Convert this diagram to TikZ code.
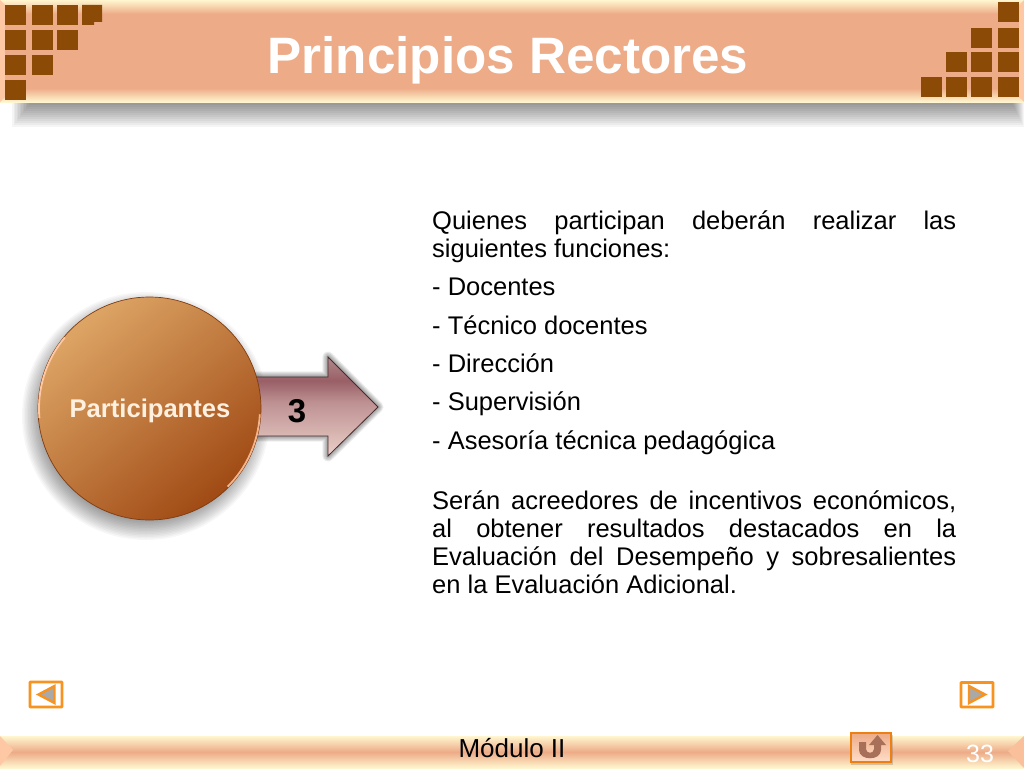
\documentclass[tikz,border=0pt]{standalone}
\usepackage{fontspec}
\setmainfont{Liberation Sans}
\usetikzlibrary{fadings,calc}
\definecolor{salmon}{HTML}{EDAB87}
\definecolor{cream}{HTML}{FFF6CF}
\definecolor{peach}{HTML}{FFC8A4}
\definecolor{sq}{HTML}{8B4A05}
\definecolor{nav}{HTML}{F7931E}
\definecolor{navgray}{HTML}{A9A9A9}
\definecolor{cLight}{HTML}{DDA565}
\definecolor{cDark}{HTML}{A04A14}
\definecolor{aTop}{HTML}{B08A8C}
\definecolor{aDark}{HTML}{995F66}
\definecolor{aLight}{HTML}{EBCFC8}
\definecolor{uglyph}{HTML}{A87058}
\pgfdeclareverticalshading{arrowshade}{100bp}{color(0bp)=(aLight); color(25bp)=(aLight); color(52bp)=(aDark!55!aLight); color(63bp)=(aDark); color(75bp)=(aTop); color(100bp)=(aTop)}
\tikzset{
  brick/.style={fill=sq,draw=none},
  navframe/.style={draw=nav,line width=2.8pt,fill=white,rounded corners=0.6pt},
  navtri/.style={draw=nav,line width=2.4pt,fill=navgray,line join=miter},
  bodytext/.style={anchor=base west,inner sep=0pt,text width=524pt,align=justify,font=\fontsize{25.5}{28}\selectfont},
}
\newcommand{\brickat}[2]{\fill[brick] (#1,#2) rectangle ++(20.5,20);}
\begin{document}
\begin{tikzpicture}[x=1pt,y=-1pt]
\useasboundingbox (0,0) rectangle (1024,768);
\fill[white] (0,0) rectangle (1024,768);

% header shadow
\foreach \k in {0,...,11}{
  \fill[black,opacity=0.04] ({12+\k*1.5},102) rectangle ({1024-\k*1.0},{127-\k*2});
}
% header band
\fill[top color=cream,bottom color=salmon] (0,0) rectangle (1024,14);
\fill[salmon] (0,14) rectangle (1024,88);
\fill[top color=salmon,bottom color=cream] (0,88) rectangle (1024,102);
\fill[peach] (0,0) -- (5,5) -- (5,97) -- (0,102) -- cycle;
\fill[peach] (1024,0) -- (1019,5) -- (1019,97) -- (1024,102) -- cycle;

% left bricks
\foreach \x/\y in {5/5,32/5,57/5,5/30,32/30,57/30,5/55,32/55,5/80}{\brickat{\x}{\y}}
\fill[brick] (82,5) -- (102,5) -- (102,22) -- (94,22) -- (94,25) -- (82,25) -- cycle;
% right bricks
\foreach \x/\y in {998/2,971/28,998/28,946/52,971/52,998/52,921/77,946/77,971/77,998/77}{\brickat{\x}{\y}}

\node[anchor=base,text=white,font=\bfseries\fontsize{51.2}{52}\selectfont,inner sep=0pt] (title) at (508,74) {Principios Rectores};

% circle shadow
\foreach \k in {0,...,15}{
  \fill[black,opacity=0.03] (146,416) circle ({124-\k*1.5});
}
% arrow shadow
\foreach \k in {0,...,6}{
  \draw[black,opacity=0.06,line width={(7-\k)*1.6pt},line join=round]
    (255,377) -- (328,377) -- (328,357) -- (378,407) -- (328,456) -- (328,436) -- (255,436) -- cycle;
}
% arrow
\shade[shading=arrowshade,draw=black!55!aDark,line width=0.8pt]
  (255,377) -- (328,377) -- (328,357) -- (378,407) -- (328,456) -- (328,436) -- (255,436) -- cycle;
\node[font=\bfseries\fontsize{33}{33}\selectfont,inner sep=0pt] (num) at (297,411) {3};

% circle
\shade[left color=cLight,right color=cDark,shading angle=40] (149.5,408.5) circle (111.5);
\draw[draw=cDark!80!black,line width=0.7pt] (149.5,408.5) circle (111.5);
\draw[draw=peach,line width=1.8pt] (149.5,408.5) ++(-140:110.5) arc (-140:-185:110.5);
\draw[draw=peach!85!cDark,line width=1.8pt] (149.5,408.5) ++(3:110.5) arc (3:45:110.5);
\node[anchor=base,text=white!88!orange,font=\bfseries\fontsize{25.6}{26}\selectfont,inner sep=0pt] (lab) at (150,417) {Participantes};

% body text
\node[bodytext] (t1) at (432,229) {Quienes participan deberán realizar las\linebreak siguientes funciones:};
\node[bodytext] (l1) at (432,295.5) {- Docentes};
\node[bodytext] (l2) at (432,334) {- Técnico docentes};
\node[bodytext] (l3) at (432,372.5) {- Dirección};
\node[bodytext] (l4) at (432,410.5) {- Supervisión};
\node[bodytext] (l5) at (432,449.5) {- Asesoría técnica pedagógica};
\node[bodytext] (t2) at (432,509.5) {Serán acreedores de incentivos económicos,\linebreak al obtener resultados destacados en la\linebreak Evaluación del Desempeño y sobresalientes\linebreak en la Evaluación Adicional.};

% nav left
\draw[navframe] (30,682) rectangle (62,707);
\draw[navtri] (38.5,694.5) -- (54.5,686) -- (54.5,703) -- cycle;
% nav right
\draw[navframe] (961,682.5) rectangle (993,707);
\draw[navtri] (985,694.5) -- (969,686) -- (969,703) -- cycle;

% footer
\fill[top color=cream,bottom color=salmon] (0,736) rectangle (1024,752);
\fill[top color=salmon,bottom color=cream] (0,752) rectangle (1024,768);
\fill[peach] (0,736) -- (13,750) -- (0,766) -- cycle;
\fill[peach!70!salmon] (1024,736) -- (1008,751) -- (1024,768) -- cycle;

\node[anchor=base,font=\fontsize{26}{26}\selectfont,inner sep=0pt] (mod) at (512,757) {Módulo II};
\node[anchor=base,text=white,font=\fontsize{25}{25}\selectfont,inner sep=0pt] (page) at (980,762) {33};

% return button
\fill[black,opacity=0.15] (851,735) rectangle (893,765);
\fill[top color=salmon,bottom color=peach!60!white,draw=orange!70!brown,line width=1.4pt] (851,733) rectangle (891,762);
\fill[uglyph] (859,742) -- (866,742) -- (866,749) .. controls (866,754) and (874,754) .. (874,749) -- (874,745) -- (869,745) -- (877.5,735) -- (886,745) -- (881,745) -- (881,750) .. controls (881,761) and (859,761) .. (859,750) -- cycle;
\end{tikzpicture}
\end{document}
